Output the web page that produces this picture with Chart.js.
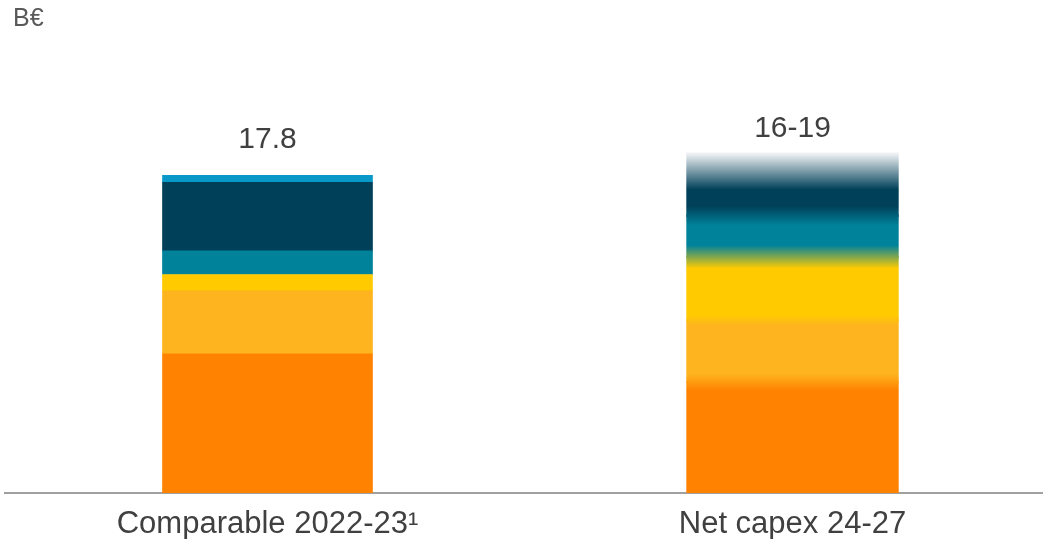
<!DOCTYPE html>
<html>
<head>
<meta charset="utf-8">
<script src="https://cdn.jsdelivr.net/npm/chart.js@4.4.1/dist/chart.umd.min.js"></script>
<style>
    html, body { margin: 0; padding: 0; background: #fff; overflow: hidden; }
    #wrap { position: relative; width: 1055px; height: 539px; }
</style>
</head>
<body>
<div id="wrap"><canvas id="chart-capex" width="1055" height="539"></canvas></div>
<script>
var categories = ['Comparable 2022-23¹', 'Net capex 24-27'];
var totalLabels = ['17.8', '16-19'];
var unitLabel = 'B€';

// stacked segments, bottom to top (B€)
var orangeValues      = [7.79, 6.21];
var lightOrangeValues = [3.53, 3.47];
var yellowValues      = [0.92, 3.55];
var tealValues        = [1.32, 2.30];
var navyValues        = [3.85, 3.47];
var lightBlueValues   = [0.39, 0];

var FONT = '"Liberation Sans", Arial, sans-serif';
var segColors = ['#FF8200', '#FDB41E', '#FFCB00', '#00829B', '#004059', '#0899C9'];
var segValues = [orangeValues, lightOrangeValues, yellowValues, tealValues, navyValues, lightBlueValues];
// blend width (B€) above each segment on the range bar, last one fades out
var blend = [0.47, 0.3, 0.65, 0.55, 2.0];
var labelGap = [36, 25];

function stackTotal(i) {
    let t = 0;
    segValues.forEach(function (arr) { t += arr[i]; });
    return t;
}

function rangeGradient(chart) {
    var y = chart.scales.y;
    var total = stackTotal(1);
    var g = chart.ctx.createLinearGradient(0, y.getPixelForValue(0), 0, y.getPixelForValue(total));
    var base = 0;
    var prevBlend = 0;
    segValues.forEach(function (arr, i) {
        var v = arr[1];
        if (!v) return;
        var lo = base + prevBlend;
        var hi = base + v - blend[i];
        g.addColorStop(Math.min(Math.max(lo / total, 0), 1), segColors[i]);
        g.addColorStop(Math.min(Math.max(hi / total, 0), 1), segColors[i]);
        prevBlend = blend[i];
        base += v;
    });
    g.addColorStop(1, '#eef1f3');
    return g;
}

var labelPlugin = {
    id: 'totalsAndUnit',
    beforeDatasetsDraw: function (chart) {
        // one gradient over the whole range bar, shared by all its segments
        var g = rangeGradient(chart);
        chart.data.datasets.forEach(function (ds, i) {
            var el = chart.getDatasetMeta(i).data[1];
            if (el) el.options = Object.assign({}, el.options, { backgroundColor: g });
        });
    },
    afterDatasetsDraw: function (chart) {
        var ctx = chart.ctx, x = chart.scales.x, y = chart.scales.y;
        ctx.save();
        ctx.fillStyle = '#404040';
        ctx.font = '30px ' + FONT;
        ctx.textAlign = 'center';
        ctx.textBaseline = 'middle';
        totalLabels.forEach(function (t, i) {
            var top = y.getPixelForValue(stackTotal(i));
            ctx.fillText(t, x.getPixelForValue(i), top - labelGap[i]);
        });
        ctx.font = '25px ' + FONT;
        ctx.fillStyle = '#595959';
        ctx.textAlign = 'left';
        ctx.fillText(unitLabel, 13, 19);
        ctx.restore();
    }
};

var datasets = segValues.map(function (arr, i) {
    return {
        label: 'seg' + i,
        data: arr,
        borderWidth: 0,
        barPercentage: 0.4,
        categoryPercentage: 1,
        backgroundColor: segColors[i],
        // overlap the range bar's pieces so no seams show through the gradient
        inflateAmount: function (c) { return c.dataIndex === 1 ? 1.2 : 0.33; }
    };
});

var ctx = document.getElementById('chart-capex').getContext('2d');
var chartCapex = new Chart(ctx, {
    type: 'bar',
    data: { labels: categories, datasets: datasets },
    options: {
        responsive: false,
        animation: false,
        devicePixelRatio: 1,
        layout: { padding: { left: 5, right: 0, top: 136, bottom: 0 } },
        plugins: {
            legend: { display: false },
            tooltip: { enabled: false },
            title: { display: false }
        },
        scales: {
            x: {
                stacked: true,
                grid: { display: false },
                border: { display: true, color: '#a0a0a0', width: 2 },
                ticks: {
                    color: '#404040',
                    padding: 5,
                    maxRotation: 0,
                    autoSkip: false,
                    font: { family: FONT, size: 31 }
                },
                afterFit: function (scale) { scale.height = 46; }
            },
            y: {
                stacked: true,
                display: false,
                min: 0,
                max: 20
            }
        }
    },
    plugins: [labelPlugin]
});
</script>
</body>
</html>
